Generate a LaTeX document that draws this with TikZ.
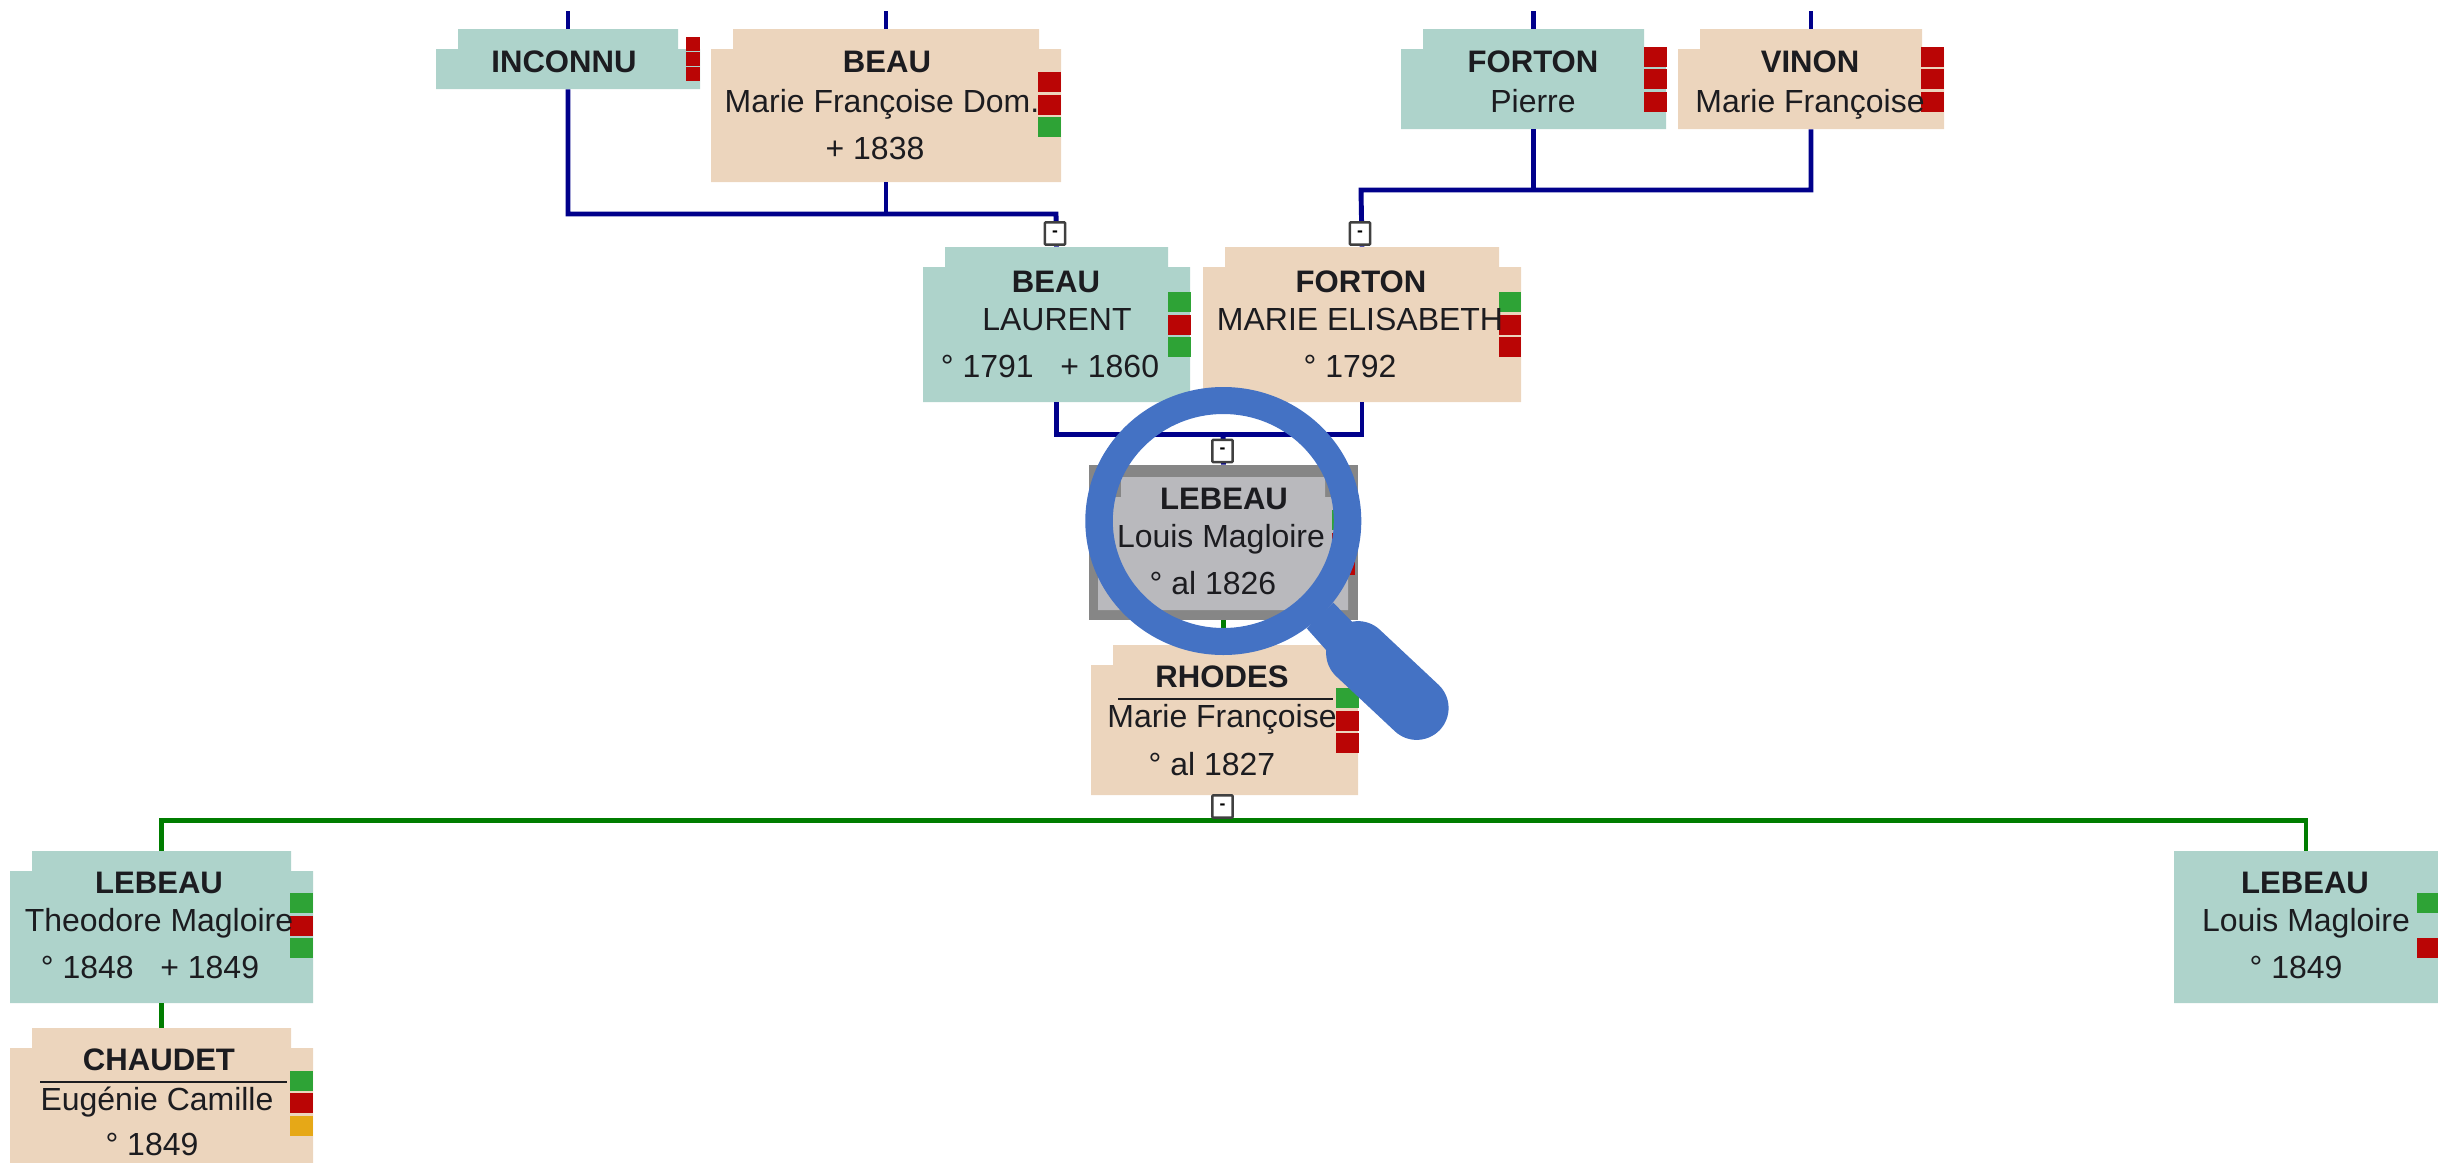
\documentclass[tikz,border=0pt]{standalone}
\usepackage{fontspec}
\setmainfont{Liberation Sans}
\usetikzlibrary{fit}
\definecolor{maleFill}{RGB}{174,211,203}
\definecolor{femaleFill}{RGB}{236,213,189}
\definecolor{focusFill}{RGB}{185,185,189}
\definecolor{focusEdge}{RGB}{134,134,134}
\definecolor{flagRed}{RGB}{186,5,5}
\definecolor{flagGreen}{RGB}{46,163,54}
\definecolor{flagAmber}{RGB}{230,168,23}
\definecolor{lineNavy}{RGB}{0,0,139}
\definecolor{lineGreen}{RGB}{0,125,0}
\definecolor{lensBlue}{RGB}{68,114,196}
\definecolor{inkDark}{RGB}{28,28,32}
% [notch]{name}{left}{right}{top}{bottom}{colour}
\newcommand{\personbox}[7][22]{%
	\fill[#7] (#3,#5+20) -- (#3+#1,#5+20) -- (#3+#1,#5) -- (#4-#1,#5) -- (#4-#1,#5+20) -- (#4,#5+20) -- (#4,#6) -- (#3,#6) -- cycle;
	\coordinate (#2nw) at (#3,#5);
	\coordinate (#2se) at (#4,#6);
	\node[fit=(#2nw)(#2se), inner sep=0pt] (#2) {};
}
\begin{document}
\begin{tikzpicture}[x=0.02cm, y=-0.02cm,
	surname/.style={anchor=base, inner sep=0pt, inkDark, font=\fontsize{17.7}{22}\selectfont\bfseries},
	given/.style={anchor=base, inner sep=0pt, inkDark, font=\fontsize{18.2}{22}\selectfont},
	navyline/.style={lineNavy, line width=2.8pt},
	greenline/.style={lineGreen, line width=2.8pt},
	namerule/.style={inkDark, line width=1.5pt},
	togglebox/.style={draw=black!75, fill=white, line width=1.4pt, rounded corners=0.5pt, inner sep=0pt, minimum width=11.6pt, minimum height=12.6pt, font=\fontsize{10}{10}\selectfont\bfseries}]
	\useasboundingbox (0,0) rectangle (2438,1163);
	% boxes
	\personbox{inconnu}{436}{700}{29}{89}{maleFill}
	\personbox{beauf}{711}{1061}{29}{182}{femaleFill}
	\personbox{fortonp}{1401}{1666}{29}{129}{maleFill}
	\personbox{vinon}{1678}{1944}{29}{129}{femaleFill}
	\personbox{beaul}{923}{1190}{247}{402}{maleFill}
	\personbox{fortonm}{1203}{1521}{247}{402}{femaleFill}
	\coordinate (lebeaunw) at (1089,465);
	\coordinate (lebeause) at (1358,620);
	\node[fit=(lebeaunw)(lebeause), inner sep=0pt, fill=focusEdge] (lebeau) {};
	\personbox[23]{lebeauin}{1098}{1348}{477}{610}{focusFill}
	\personbox{rhodes}{1091}{1358}{645}{795}{femaleFill}
	\personbox{theodore}{10}{313}{851}{1003}{maleFill}
	\personbox{chaudet}{10}{313}{1028}{1163}{femaleFill}
	\personbox[0]{louis}{2174}{2438}{851}{1003}{maleFill}
	% flags
	\foreach \yy in {37,52,67} \fill[flagRed] (686,\yy) rectangle +(14,13.5);
	\foreach \yy/\flag in {72/flagRed,95/flagRed,117/flagGreen} \fill[\flag] (1038,\yy) rectangle +(23,20);
	\foreach \xx in {1644,1921} \foreach \yy in {47,69,92} \fill[flagRed] (\xx,\yy) rectangle +(22.5,20);
	\foreach \yy/\flag in {292/flagGreen,315/flagRed,337/flagGreen} \fill[\flag] (1168,\yy) rectangle +(22.5,20);
	\foreach \yy/\flag in {292/flagGreen,315/flagRed,337/flagRed} \fill[\flag] (1498.5,\yy) rectangle +(22.5,20);
	\foreach \yy/\flag in {510/flagGreen,533/flagRed,555/flagRed} \fill[\flag] (1332,\yy) rectangle +(23,20);
	\foreach \yy/\flag in {688/flagGreen,711/flagRed,733/flagRed} \fill[\flag] (1336,\yy) rectangle +(22.5,20);
	\foreach \yy/\flag in {893/flagGreen,916/flagRed,938/flagGreen} \fill[\flag] (290,\yy) rectangle +(23,20);
	\foreach \yy/\flag in {1071/flagGreen,1093/flagRed,1116/flagAmber} \fill[\flag] (290,\yy) rectangle +(23,20);
	\foreach \yy/\flag in {893/flagGreen,938/flagRed} \fill[\flag] (2417,\yy) rectangle +(21,20);
	% names
	\node[surname] (inconnuA) at (564,72) {INCONNU};
	\node[surname] (beaufA) at (887,72) {BEAU};
	\node[given] (beaufB) at (882,112) {Marie Françoise Dom.};
	\node[given] (beaufC) at (875,159) {+ 1838};
	\node[surname] (fortonpA) at (1533,72) {FORTON};
	\node[given] (fortonpB) at (1533,112) {Pierre};
	\node[surname] (vinonA) at (1810,72) {VINON};
	\node[given] (vinonB) at (1810,112) {Marie Françoise};
	\node[surname] (beaulA) at (1056,292) {BEAU};
	\node[given] (beaulB) at (1057,330) {LAURENT};
	\node[given] (beaulC) at (1050,377) {° 1791\ \ \ + 1860};
	\node[surname] (fortonmA) at (1361,292) {FORTON};
	\node[given] (fortonmB) at (1360,330) {MARIE ELISABETH};
	\node[given] (fortonmC) at (1350,377) {° 1792};
	\node[surname] (lebeauA) at (1224,509) {LEBEAU};
	\node[given] (lebeauB) at (1221,547) {Louis Magloire};
	\node[given] (lebeauC) at (1213,594) {° al 1826};
	\node[surname] (rhodesA) at (1222,687) {RHODES};
	\draw[namerule] (1118,699) -- (1333,699);
	\node[given] (rhodesB) at (1222,727) {Marie Françoise};
	\node[given] (rhodesC) at (1212,775) {° al 1827};
	\node[surname] (theodoreA) at (159,893) {LEBEAU};
	\node[given] (theodoreB) at (159,931) {Theodore Magloire};
	\node[given] (theodoreC) at (150,978) {° 1848\ \ \ + 1849};
	\node[surname] (chaudetA) at (159,1070) {CHAUDET};
	\draw[namerule] (40,1082) -- (287,1082);
	\node[given] (chaudetB) at (157,1110) {Eugénie Camille};
	\node[given] (chaudetC) at (152,1155) {° 1849};
	\node[surname] (louisA) at (2305,893) {LEBEAU};
	\node[given] (louisB) at (2306,931) {Louis Magloire};
	\node[given] (louisC) at (2296,978) {° 1849};
	% connectors
	\coordinate (topedge) at (0,11);
	\coordinate (jbeau) at (1056,214);
	\coordinate (jforton) at (1361,190);
	\coordinate (jlebeau) at (1223,434.5);
	\coordinate (jchildren) at (1223,820.5);
	\foreach \top in {inconnu,beauf,fortonp,vinon} \draw[navyline] (\top.north) -- (\top.north |- topedge);
	\draw[navyline] (inconnu.south) |- (jbeau) -- (beaul.north);
	\draw[navyline] (beauf.south) -- (beauf.south |- jbeau);
	\draw[navyline] (vinon.south) |- (jforton) -- (fortonm.north);
	\draw[navyline] (fortonp.south) -- (fortonp.south |- jforton);
	\draw[navyline] (beaul.south) -- (beaul.south |- jlebeau) -- (fortonm.south |- jlebeau) -- (fortonm.south);
	\draw[navyline] (jlebeau) -- (lebeau.north);
	\draw[greenline] (lebeau.south) -- (lebeau.south |- rhodes.north);
	\draw[greenline] (theodore.north) -- (theodore.north |- jchildren) -- (louis.north |- jchildren) -- (louis.north);
	\draw[greenline] (rhodes.south) -- (rhodes.south |- jchildren);
	\draw[greenline] (theodore.south) -- (chaudet.north);
	% toggles
	\node[togglebox] (tbeau) at (1055,233.5) {-};
	\node[togglebox] (tforton) at (1360,233.5) {-};
	\node[togglebox] (tlebeau) at (1222.5,451) {-};
	\node[togglebox] (trhodes) at (1222.5,806.5) {-};
	% magnifier
	\fill[lensBlue, even odd rule] (1223.3,521) ellipse [x radius=138, y radius=134] (1223.3,521) ellipse [x radius=110.5, y radius=107];
	\fill[lensBlue] (1333.3,602.7) -- (1365,635) -- (1335,660) -- (1306.7,628.3) -- cycle;
	\draw[lensBlue, line width=36.3pt, line cap=round] (1358,653) -- (1416.7,708);
\end{tikzpicture}
\end{document}
